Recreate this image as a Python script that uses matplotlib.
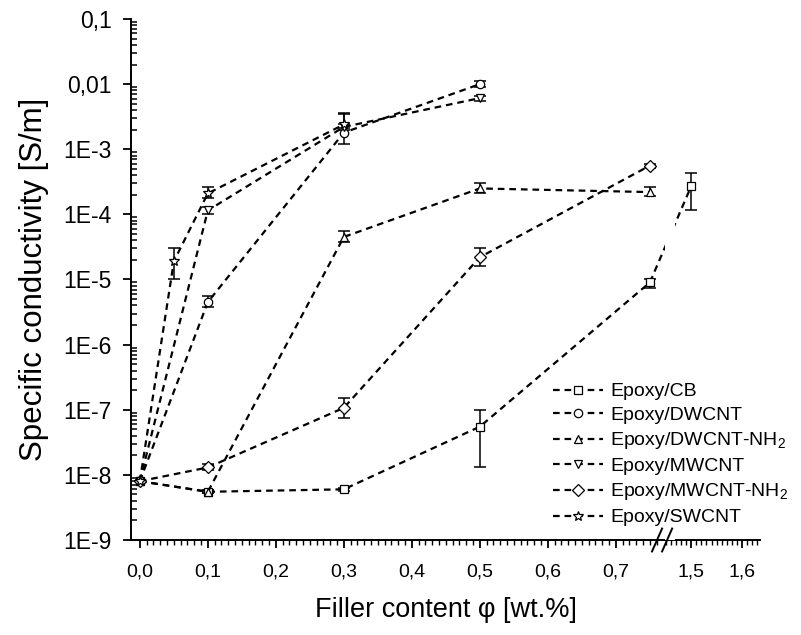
import numpy as np
import matplotlib
matplotlib.use("Agg")
import matplotlib.pyplot as plt
import matplotlib.image as mpimg
from matplotlib.ticker import FixedLocator, NullFormatter, LogLocator

# ---------------------------------------------------------------
# Data (conductivity in S/m, filler in wt.%)
# ---------------------------------------------------------------

x_cb   = [0.0, 0.1, 0.3, 0.5, 0.75, 1.5]
y_cb   = [8e-9, 5.5e-9, 6e-9, 5.5e-8, 9e-6, 2.7e-4]
lo_cb  = [8e-9, 5.2e-9, 5.7e-9, 1.3e-8, 7.5e-6, 1.15e-4]
hi_cb  = [8e-9, 5.8e-9, 6.3e-9, 1.0e-7, 1.0e-5, 4.3e-4]

x_dw   = [0.0, 0.1, 0.3, 0.5]
y_dw   = [8e-9, 4.5e-6, 1.8e-3, 1.0e-2]
lo_dw  = [8e-9, 3.8e-6, 1.2e-3, 9.0e-3]
hi_dw  = [8e-9, 5.5e-6, 3.5e-3, 1.1e-2]

x_dwn  = [0.0, 0.1, 0.3, 0.5, 0.75]
y_dwn  = [8e-9, 5.5e-9, 4.5e-5, 2.5e-4, 2.2e-4]
lo_dwn = [8e-9, 5.2e-9, 3.7e-5, 2.1e-4, 1.9e-4]
hi_dwn = [8e-9, 5.8e-9, 5.5e-5, 3.0e-4, 2.6e-4]

x_mw   = [0.0, 0.1, 0.3, 0.5]
y_mw   = [8e-9, 1.15e-4, 2.2e-3, 6.1e-3]
lo_mw  = [8e-9, 1.0e-4, 2.0e-3, 5.6e-3]
hi_mw  = [8e-9, 1.3e-4, 2.4e-3, 6.6e-3]

x_mwn  = [0.0, 0.1, 0.3, 0.5, 0.75]
y_mwn  = [8e-9, 1.3e-8, 1.07e-7, 2.2e-5, 5.6e-4]
lo_mwn = [8e-9, 1.2e-8, 7.5e-8, 1.6e-5, 5.2e-4]
hi_mwn = [8e-9, 1.45e-8, 1.5e-7, 3.0e-5, 6.0e-4]

x_sw   = [0.0, 0.05, 0.1, 0.3]
y_sw   = [8e-9, 1.9e-5, 2.1e-4, 2.4e-3]
lo_sw  = [8e-9, 1.0e-5, 1.8e-4, 2.1e-3]
hi_sw  = [8e-9, 3.0e-5, 2.6e-4, 3.6e-3]

labels  = ["Epoxy/CB", "Epoxy/DWCNT", "Epoxy/DWCNT-NH$\\mathregular{_2}$",
           "Epoxy/MWCNT", "Epoxy/MWCNT-NH$\\mathregular{_2}$", "Epoxy/SWCNT"]
markers = ["s", "o", "^", "v", "D", "*"]

x_major = [0.0, 0.1, 0.2, 0.3, 0.4, 0.5, 0.6, 0.7, 1.5, 1.6]
x_major_labels = ["0,0", "0,1", "0,2", "0,3", "0,4", "0,5", "0,6", "0,7", "1,5", "1,6"]
y_major = [1e-9, 1e-8, 1e-7, 1e-6, 1e-5, 1e-4, 1e-3, 1e-2, 1e-1]
y_major_labels = ["1E-9", "1E-8", "1E-7", "1E-6", "1E-5", "1E-4", "1E-3", "0,01", "0,1"]

# ---------------------------------------------------------------
# Broken x axis as a piecewise linear scale
# ---------------------------------------------------------------

B1 = 0.768   # end of first segment
B2 = 1.443   # start of second segment
R  = 0.75    # second segment is compressed
XMIN, XMAX = -0.013, 1.635
YMIN, YMAX = 1e-9, 1e-1

def fwd(x):
    x = np.asarray(x, dtype=float)
    return np.where(x <= B1, x, np.where(x >= B2, B1 + (x - B2) * R, B1))

def inv(u):
    u = np.asarray(u, dtype=float)
    return np.where(u <= B1, u, B2 + (u - B1) / R)

plt.rcParams['font.family'] = ['Liberation Sans', 'DejaVu Sans']
plt.rcParams['mathtext.fontset'] = 'custom'
plt.rcParams['mathtext.rm'] = 'Liberation Sans'

fig = plt.figure(figsize=(8.01, 6.35), dpi=100)
ax = fig.add_axes([131/801, (635-540)/635, (760-131)/801, (540-19)/635])

ax.set_xscale('function', functions=(fwd, inv))
ax.set_yscale('log')
ax.set_xlim(XMIN, XMAX)
ax.set_ylim(YMIN, YMAX)

series = [(x_cb, y_cb, lo_cb, hi_cb), (x_dw, y_dw, lo_dw, hi_dw),
          (x_dwn, y_dwn, lo_dwn, hi_dwn), (x_mw, y_mw, lo_mw, hi_mw),
          (x_mwn, y_mwn, lo_mwn, hi_mwn), (x_sw, y_sw, lo_sw, hi_sw)]

handles = []
for (xs, ys, lo, hi), lab, mk in zip(series, labels, markers):
    ys = np.array(ys); lo = np.array(lo); hi = np.array(hi)
    ax.errorbar(xs, ys, yerr=[ys - lo, hi - ys], fmt='none', ecolor='black',
                elinewidth=1.1, capsize=4, capthick=1.1, zorder=3)
    ms = 7.5 if mk == '*' else 6
    ln, = ax.plot(xs, ys, color='black', linestyle=(0, (3, 2.2)), linewidth=1.6,
                  marker=mk, markersize=ms, markerfacecolor='white',
                  markeredgecolor='black', markeredgewidth=0.9, label=lab, zorder=4)
    handles.append(ln)

# gap in the lines at the axis break
ax.axvspan(1.448, 1.468, color='white', zorder=4.5, lw=0)

# axes styling
for side in ['top', 'right']:
    ax.spines[side].set_visible(False)
ax.spines['left'].set_linewidth(1.4)
ax.spines['bottom'].set_linewidth(1.4)

# x ticks, major and minor, in both segments
minors = [round(v, 2) for v in np.arange(0.01, 0.77, 0.01)] + \
         [round(v, 2) for v in np.arange(1.45, 1.64, 0.01)]
minors = [m for m in minors if m not in x_major]
ax.set_xticks(x_major)
ax.set_xticklabels(x_major_labels)
ax.set_xticks(minors, minor=True)
ax.xaxis.set_minor_formatter(NullFormatter())
ax.tick_params(axis='x', which='major', direction='out', length=6, width=1.3,
               labelsize=14, pad=11)
ax.tick_params(axis='x', which='minor', direction='out', length=3.5, width=1.0)

ax.yaxis.set_major_locator(FixedLocator(y_major))
ax.set_yticklabels(y_major_labels)
ax.yaxis.set_minor_locator(LogLocator(base=10, subs=np.arange(2, 10)))
ax.yaxis.set_minor_formatter(NullFormatter())
ax.tick_params(axis='y', which='major', direction='out', length=6, width=1.3,
               labelsize=16.5, pad=8)
ax.tick_params(axis='y', which='minor', direction='in', length=4, width=1.1)

# break marks on x axis, placed in axes fraction
u0, u1 = float(fwd(XMIN)), float(fwd(XMAX))
fb = (float(fwd(B1)) - u0) / (u1 - u0)
for dx in (-0.008, 0.008):
    ax.plot([fb + dx - 0.008, fb + dx + 0.008], [-0.022, 0.022], color='black',
            lw=1.4, transform=ax.transAxes, clip_on=False, zorder=6)

ax.set_xlabel("Filler content \u03c6 [wt.%]", fontsize=19.5, labelpad=12)
ax.set_ylabel("Specific conductivity [S/m]", fontsize=22.5, labelpad=10)

ax.legend(handles=handles, loc='upper left', frameon=False, fontsize=14,
          bbox_to_anchor=(545/801, 1 - 375/635), bbox_transform=fig.transFigure,
          handlelength=2.6, handletextpad=0.35, labelspacing=0.32, borderaxespad=0)

fig.savefig("out.png", dpi=100)

# check that the x tick marks really landed below the axis line
g = mpimg.imread("out.png")[..., :3].mean(axis=2)
dark = int((g[543:548, 145:640] < 0.5).sum())
if dark < 40:
    t = ax.xaxis.get_major_ticks()[1]
    info = ["dark=%d" % dark,
            "minor locs=%s" % ax.xaxis.get_minorticklocs()[:5],
            "tick1 xy=%s" % (t.tick1line.get_transform().transform([[0.1, 0.0]]),),
            "tick visible=%s ms=%s" % (t.tick1line.get_visible(), t.tick1line.get_markersize()),
            "xaxis visible=%s" % ax.xaxis.get_visible()]
    for r in range(536, 556):
        d = np.where(g[r, 130:780] < 0.5)[0] + 130
        info.append("row %d n=%d %s" % (r, len(d), d[:12].tolist()))
    raise SystemExit("\n".join(info))
